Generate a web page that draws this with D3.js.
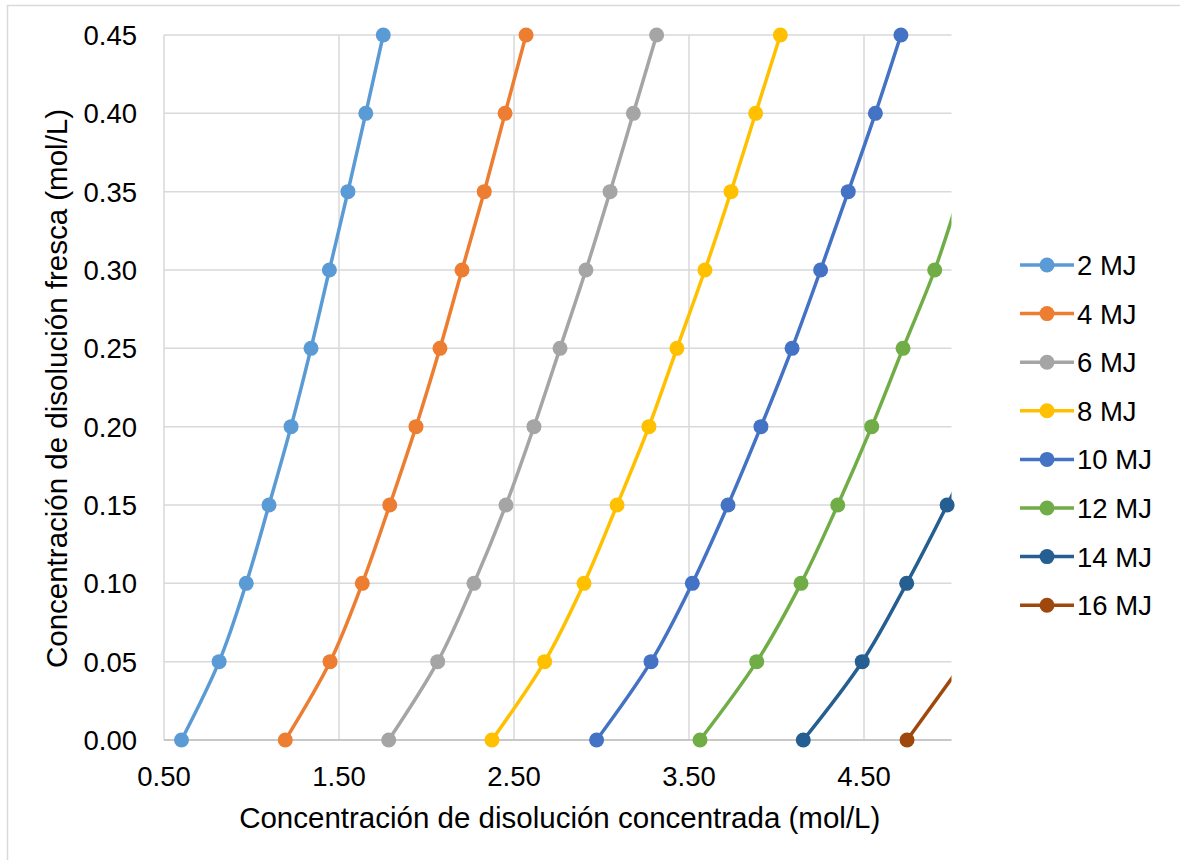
<!DOCTYPE html>
<html>
<head>
<meta charset="utf-8">
<script src="https://cdn.jsdelivr.net/npm/d3@7"></script>
<style>
    html, body { margin: 0; padding: 0; background: #fff; }
    svg { display: block; font-family: "Liberation Sans", Arial, sans-serif; }
</style>
</head>
<body>
<div id="chart"></div>
<script>
//fresh solution concentration (y values shared by every serie)
var freshValues = [0.00, 0.05, 0.10, 0.15, 0.20, 0.25, 0.30, 0.35, 0.40, 0.45];

//concentrated solution values per serie
var mj2 = [0.60, 0.815, 0.97, 1.10, 1.226, 1.34, 1.445, 1.551, 1.653, 1.753];
var mj4 = [1.193, 1.449, 1.633, 1.79, 1.94, 2.077, 2.203, 2.33, 2.449, 2.569];
var mj6 = [1.784, 2.064, 2.271, 2.454, 2.614, 2.763, 2.911, 3.049, 3.182, 3.315];
var mj8 = [2.374, 2.675, 2.90, 3.089, 3.271, 3.431, 3.591, 3.74, 3.881, 4.022];
var mj10 = [2.972, 3.283, 3.519, 3.723, 3.911, 4.089, 4.252, 4.41, 4.565, 4.711];
var mj12 = [3.563, 3.887, 4.14, 4.35, 4.544, 4.723, 4.904, 5.05];
var mj14 = [4.153, 4.49, 4.744, 4.975, 5.19];
var mj16 = [4.746, 5.07];

//legend names and colors
var serieNames = ['2 MJ', '4 MJ', '6 MJ', '8 MJ', '10 MJ', '12 MJ', '14 MJ', '16 MJ'];
var serieColors = ['#5B9BD5', '#ED7D31', '#A5A5A5', '#FFC000', '#4472C4', '#70AD47', '#255E91', '#9E480E'];
var serieValues = [mj2, mj4, mj6, mj8, mj10, mj12, mj14, mj16];

//axis ticks
var xTicks = [0.5, 1.5, 2.5, 3.5, 4.5];
var yTicks = [0, 0.05, 0.10, 0.15, 0.20, 0.25, 0.30, 0.35, 0.40, 0.45];

var width = 1180,
    height = 860,
    plot = { left: 164, top: 35, right: 951.5, bottom: 740 };

var svg = d3.select('#chart').append('svg')
    .attr('width', width)
    .attr('height', height);

//chart border
svg.append('rect')
    .attr('x', 7.5).attr('y', 5.5)
    .attr('width', 1220).attr('height', 900)
    .attr('fill', '#fff')
    .attr('stroke', '#D9D9D9')
    .attr('stroke-width', 1.5);

//scales
var xScale = d3.scaleLinear().domain([0.5, 5.0]).range([plot.left, plot.right]);
var yScale = d3.scaleLinear().domain([0, 0.45]).range([plot.bottom, plot.top]);

//grid lines
var gridG = svg.append('g');
gridG.selectAll('.hgrid')
    .data(yTicks)
    .enter().append('line')
    .attr('x1', plot.left).attr('x2', plot.right)
    .attr('y1', function (d) { return yScale(d); })
    .attr('y2', function (d) { return yScale(d); })
    .attr('stroke', '#D9D9D9')
    .attr('stroke-width', 1.5);
gridG.selectAll('.vgrid')
    .data(xTicks)
    .enter().append('line')
    .attr('y1', plot.top).attr('y2', plot.bottom)
    .attr('x1', function (d) { return xScale(d); })
    .attr('x2', function (d) { return xScale(d); })
    .attr('stroke', '#D9D9D9')
    .attr('stroke-width', 1.5);

//bottom axis line
svg.append('line')
    .attr('x1', plot.left).attr('x2', plot.right)
    .attr('y1', plot.bottom).attr('y2', plot.bottom)
    .attr('stroke', '#BFBFBF')
    .attr('stroke-width', 1.5);

//tick labels
svg.append('g').selectAll('text')
    .data(yTicks)
    .enter().append('text')
    .attr('x', 137)
    .attr('y', function (d) { return yScale(d); })
    .attr('dy', '0.36em')
    .attr('text-anchor', 'end')
    .attr('font-size', 27.5)
    .attr('fill', '#000')
    .text(function (d) { return d3.format('.2f')(d); });
svg.append('g').selectAll('text')
    .data(xTicks)
    .enter().append('text')
    .attr('x', function (d) { return xScale(d); })
    .attr('y', 786)
    .attr('text-anchor', 'middle')
    .attr('font-size', 27.5)
    .attr('fill', '#000')
    .text(function (d) { return d3.format('.2f')(d); });

//axis titles
svg.append('text')
    .attr('x', (plot.left + plot.right) / 2 + 2)
    .attr('y', 828)
    .attr('text-anchor', 'middle')
    .attr('font-size', 29.5)
    .attr('fill', '#000')
    .text('Concentración de disolución concentrada (mol/L)');
svg.append('text')
    .attr('transform', 'translate(67,' + ((plot.top + plot.bottom) / 2 + 1) + ') rotate(-90)')
    .attr('text-anchor', 'middle')
    .attr('font-size', 29.5)
    .attr('fill', '#000')
    .text('Concentración de disolución fresca (mol/L)');

//clip for lines
svg.append('clipPath').attr('id', 'plotClip')
    .append('rect')
    .attr('x', plot.left).attr('y', plot.top - 10)
    .attr('width', plot.right - plot.left).attr('height', plot.bottom - plot.top + 20);

//build serie data
var series = serieValues.map(function (vals, i) {
    return {
        name: serieNames[i],
        color: serieColors[i],
        points: vals.map(function (v, j) { return { x: v, y: freshValues[j] }; })
    };
});

var lineF = d3.line()
    .x(function (d) { return xScale(d.x); })
    .y(function (d) { return yScale(d.y); })
    .curve(d3.curveCatmullRom.alpha(0));

var seriesG = svg.append('g');
series.forEach(function (s) {
    seriesG.append('path')
        .attr('d', lineF(s.points))
        .attr('clip-path', 'url(#plotClip)')
        .attr('fill', 'none')
        .attr('stroke', s.color)
        .attr('stroke-width', 3.5)
        .attr('stroke-linejoin', 'round');
});
series.forEach(function (s) {
    seriesG.selectAll(null)
        .data(s.points.filter(function (d) { return d.x <= 5.0; }))
        .enter().append('circle')
        .attr('cx', function (d) { return xScale(d.x); })
        .attr('cy', function (d) { return yScale(d.y); })
        .attr('r', 7.5)
        .attr('fill', s.color);
});

//legend
var legendG = svg.append('g').selectAll('g')
    .data(series)
    .enter().append('g')
    .attr('transform', function (d, i) { return 'translate(1020,' + (265 + i * 48.6) + ')'; });
legendG.append('line')
    .attr('x1', 0).attr('x2', 54)
    .attr('stroke', function (d) { return d.color; })
    .attr('stroke-width', 3.5);
legendG.append('circle')
    .attr('cx', 27).attr('r', 7.5)
    .attr('fill', function (d) { return d.color; });
legendG.append('text')
    .attr('x', 57)
    .attr('dy', '0.36em')
    .attr('font-size', 27.5)
    .attr('fill', '#000')
    .text(function (d) { return d.name; });
</script>
</body>
</html>
